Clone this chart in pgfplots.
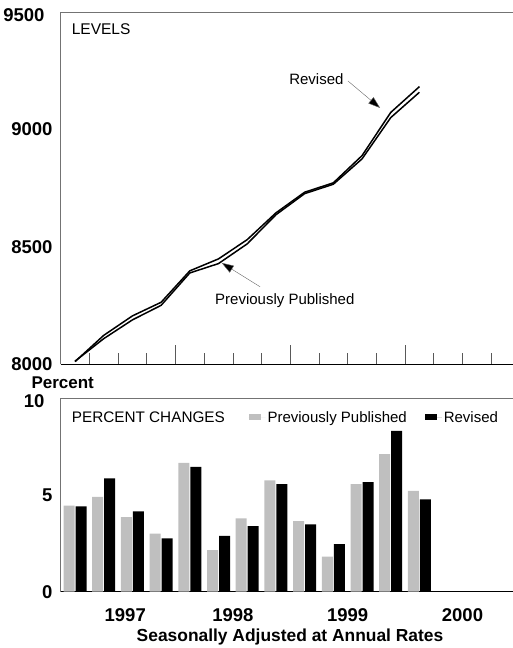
\documentclass[border=0pt]{standalone}
\usepackage{pgfplots}
\pgfplotsset{compat=1.18}
\usepackage{fontspec}
\setmainfont{Liberation Sans}
\usetikzlibrary{arrows.meta}
\newcommand{\fs}[1]{\fontsize{#1}{#1}\selectfont}

\pgfplotstableread{
q rev prev
0  8010 8012
1  8122 8108
2  8205 8188
3  8263 8250
4  8397 8388
5  8448 8428
6  8530 8512
7  8644 8636
8  8732 8726
9  8772 8766
10 8888 8874
11 9072 9050
12 9182 9158
}\levels

\pgfplotstableread{
q rev prev
0  4.40 4.45
1  5.85 4.90
2  4.15 3.85
3  2.76 3.00
4  6.45 6.65
5  2.88 2.15
6  3.39 3.79
7  5.56 5.75
8  3.48 3.65
9  2.46 1.81
10 5.66 5.55
11 8.30 7.10
12 4.77 5.20
}\changes

\pgfplotsset{
  common/.style={
    scale only axis,
    width=452.35bp,
    xmin=-0.5, xmax=15.26,
    axis lines=left,
    axis line style={-},
    x axis line style={black, line width=0.9bp},
    y axis line style={black!55, line width=0.6bp},
    tick align=inside,
    ytick style={draw=none},
    /pgf/number format/assume math mode=true,
    /pgf/number format/set thousands separator={},
    yticklabel style={font=\fs{18.5bp}\bfseries, inner sep=0pt, xshift=-8bp},
    extra y tick style={yticklabel style={font=\fs{18.5bp}\bfseries, inner sep=0pt, xshift=-8bp}},
  }
}

\begin{document}
\begin{tikzpicture}[x=1bp,y=1bp]
% ---------- top panel: levels ----------
\begin{axis}[common,
  at={(60.65bp,-364bp)}, anchor=south west,
  height=352bp,
  ymin=8000, ymax=9500,
  ytick={8000,8500,9000},
  extra y ticks={9485},
  extra y tick labels={9500},
  xtick={0.5,1.5,2.5,4.5,5.5,6.5,8.5,9.5,10.5,12.5,13.5,14.5},
  xticklabels={},
  xtick style={black!65, line width=0.6bp},
  major tick length=11bp,
  extra x ticks={3.5,7.5,11.5},
  extra x tick labels={},
  extra x tick style={major tick length=19bp, black!75},
  clip=false,
]
\draw[black!55, line width=0.6bp] (rel axis cs:0,1) -- (rel axis cs:1,1);
\addplot[black, line width=1.5bp, line join=round] table[x=q, y=prev] {\levels};
\addplot[black, line width=1.5bp, line join=round] table[x=q, y=rev] {\levels};
\node[anchor=west, font=\fs{15.5bp}] at (rel axis cs:0.017,0.951) {LEVELS};
\node[font=\fs{15bp}] at (axis cs:8.41,9214) {Revised};
\draw[black!60, line width=0.4bp, -{Triangle[length=12bp,width=8bp,fill=black]}]
  (axis cs:9.51,9206) -- (axis cs:10.63,9091);
\node[font=\fs{15bp}] at (axis cs:7.31,8268) {Previously Published};
\draw[black!60, line width=0.4bp, -{Triangle[length=12bp,width=8bp,fill=black]}]
  (axis cs:6.45,8329) -- (axis cs:5.11,8431);
\end{axis}

% ---------- bottom panel: percent changes ----------
\begin{axis}[common,
  at={(60.65bp,-591.7bp)}, anchor=south west,
  height=193.7bp,
  ymin=0, ymax=10,
  ytick={0,5},
  extra y ticks={9.84},
  extra y tick labels={10},
  xtick={1.75,5.5,9.5,13.5},
  xticklabels={1997,1998,1999,2000},
  xticklabel style={font=\fs{18.5bp}\bfseries, yshift=-9bp},
  xtick style={draw=none},
  extra x ticks={3.5,7.5,11.5},
  extra x tick labels={},
  extra x tick style={major tick length=19bp, black!75, line width=0.6bp},
  ybar=1bp, bar width=11bp,
  legend style={at={(rel axis cs:0.415,0.90)}, anchor=west, draw=none, fill=none,
    font=\fs{15bp}, legend columns=2, inner sep=0pt,
    /tikz/every even column/.append style={column sep=16bp}},
  legend image code/.code={\draw[#1, draw=none] (0bp,-3bp) rectangle (12bp,3bp); \path (0bp,0bp) -- (17bp,0bp);},
  clip=false,
]
\draw[black!55, line width=0.6bp] (rel axis cs:0,1) -- (rel axis cs:1,1);
\addplot[fill=black!25, draw=none] table[x=q, y=prev] {\changes};
\addplot[fill=black, draw=none] table[x=q, y=rev] {\changes};
\legend{Previously Published, Revised}
\node[anchor=west, font=\fs{15.3bp}] at (rel axis cs:0.017,0.90) {PERCENT CHANGES};
\end{axis}

\node[anchor=west, font=\fs{17bp}\bfseries] at (28,-383) {Percent};
\node[font=\fs{17.4bp}\bfseries] at (290,-637) {Seasonally Adjusted at Annual Rates};

\pgfresetboundingbox
\path[use as bounding box] (0,0) rectangle (513,-648);
\end{tikzpicture}
\end{document}
